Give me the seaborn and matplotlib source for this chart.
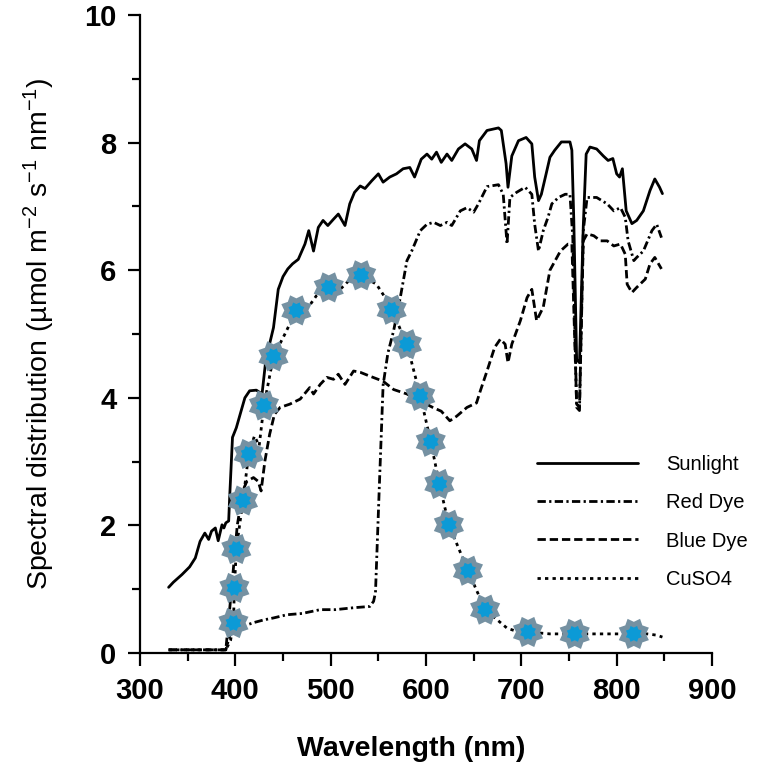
import numpy as np
import pandas as pd
import seaborn as sns
import matplotlib
matplotlib.use("Agg")
import matplotlib.pyplot as plt
from matplotlib.path import Path

# values (wavelength nm, umol m-2 s-1 nm-1)
sun_wl = [330, 335, 344, 352, 358, 363, 368, 372, 375, 379, 382, 386, 388, 390, 393,
          394, 397, 401, 405, 410, 415, 422, 428, 432, 436, 440, 445, 450, 455, 460,
          466, 473, 477, 482, 487, 492, 497, 503, 508, 515, 520, 525, 531, 536, 543,
          550, 555, 562, 569, 576, 583, 588, 595, 601, 606, 611, 616, 622, 627, 634,
          641, 648, 653, 656, 664, 676, 679, 684, 686, 690, 697, 705, 711, 714, 718,
          721, 726, 730, 735, 742, 751, 753, 755, 758, 761, 765, 768, 772, 779, 786,
          791, 796, 800, 803, 806, 810, 816, 821, 828, 835, 840, 845, 848]
sun_val = [1.03, 1.11, 1.23, 1.35, 1.49, 1.75, 1.88, 1.78, 1.91, 1.96, 1.76, 2.01, 1.96, 2.04, 2.07,
           2.43, 3.38, 3.53, 3.74, 4.00, 4.11, 4.12, 4.06, 4.60, 4.85, 5.10, 5.70, 5.90, 6.02, 6.10,
           6.17, 6.41, 6.62, 6.30, 6.67, 6.78, 6.70, 6.80, 6.88, 6.70, 7.04, 7.22, 7.32, 7.28, 7.40,
           7.51, 7.38, 7.46, 7.51, 7.59, 7.61, 7.46, 7.74, 7.82, 7.74, 7.85, 7.69, 7.82, 7.72, 7.90,
           7.98, 7.90, 7.72, 8.03, 8.19, 8.23, 8.19, 7.67, 7.30, 7.79, 8.03, 8.08, 7.98, 7.46, 7.09,
           7.19, 7.51, 7.77, 7.88, 8.01, 8.01, 7.88, 6.80, 4.60, 4.55, 6.70, 7.82, 7.93, 7.90, 7.79,
           7.72, 7.75, 7.51, 7.46, 7.59, 6.93, 6.73, 6.78, 6.93, 7.25, 7.43, 7.30, 7.20]

red_wl = [330, 390, 396, 400, 412, 420, 430, 440, 454, 470, 489, 505, 524, 541, 545,
          547, 551, 555, 560, 566, 573, 580, 585, 594, 601, 608, 615, 622, 627, 636,
          643, 650, 655, 664, 676, 681, 685, 688, 695, 704, 711, 714, 718, 723, 728,
          732, 739, 746, 751, 754, 758, 761, 765, 769, 779, 790, 797, 804, 809, 812,
          818, 821, 828, 837, 842, 847]
red_val = [0.05, 0.05, 0.38, 0.42, 0.44, 0.48, 0.52, 0.55, 0.60, 0.62, 0.68, 0.68, 0.71, 0.73, 0.81,
           0.95, 2.60, 4.20, 4.70, 5.05, 5.57, 6.15, 6.30, 6.62, 6.72, 6.75, 6.70, 6.75, 6.70, 6.93,
           6.98, 6.91, 7.04, 7.31, 7.34, 7.19, 6.41, 7.14, 7.22, 7.30, 7.19, 6.72, 6.30, 6.62, 6.83,
           7.04, 7.14, 7.19, 7.19, 6.50, 3.85, 3.80, 6.62, 7.14, 7.14, 7.04, 6.93, 6.98, 6.83, 6.46,
           6.15, 6.20, 6.30, 6.62, 6.72, 6.51]

blue_wl = [330, 390, 396, 402, 408, 412, 419, 424, 427, 431, 436, 441, 447, 457, 468,
           478, 482, 489, 496, 503, 508, 515, 524, 531, 541, 555, 566, 580, 594, 607,
           616, 625, 632, 643, 653, 657, 664, 672, 678, 683, 686, 690, 699, 706, 711,
           716, 723, 730, 741, 749, 753, 758, 761, 765, 769, 776, 783, 790, 797, 804,
           809, 811, 816, 821, 830, 835, 840, 847]
blue_val = [0.05, 0.05, 1.00, 2.00, 2.55, 2.69, 2.75, 2.69, 2.54, 3.01, 3.43, 3.74, 3.85, 3.90, 3.98,
            4.16, 4.06, 4.21, 4.32, 4.29, 4.37, 4.21, 4.42, 4.40, 4.34, 4.26, 4.13, 4.06, 3.95, 3.85,
            3.79, 3.64, 3.71, 3.85, 3.92, 4.11, 4.42, 4.79, 4.92, 4.84, 4.55, 4.84, 5.21, 5.57, 5.70,
            5.21, 5.42, 6.00, 6.30, 6.41, 6.41, 3.90, 3.85, 6.46, 6.57, 6.54, 6.46, 6.46, 6.38, 6.41,
            6.25, 5.78, 5.65, 5.73, 5.86, 6.10, 6.20, 6.02]

cu_wl = [330, 390, 395, 398, 399, 401, 408, 414, 420, 425, 430, 440, 452, 464, 478,
         485, 498, 510, 520, 532, 548, 555, 564, 580, 594, 605, 614, 624, 644, 662,
         685, 699, 707, 730, 756, 790, 818, 832, 842, 848]
cu_val = [0.05, 0.05, 0.20, 0.47, 1.02, 1.63, 2.39, 3.12, 3.40, 3.25, 3.88, 4.65, 5.00, 5.37, 5.45,
          5.60, 5.73, 5.70, 5.85, 5.92, 5.78, 5.62, 5.38, 4.84, 4.03, 3.31, 2.65, 2.01, 1.29, 0.68,
          0.39, 0.32, 0.33, 0.30, 0.30, 0.30, 0.30, 0.30, 0.28, 0.25]

cu_mark_wl = [398, 399, 401, 408, 414, 430, 440, 464, 498, 532, 564, 580, 594, 605, 614,
              624, 644, 662, 707, 756, 818]
cu_mark_val = [0.47, 1.02, 1.63, 2.39, 3.12, 3.88, 4.65, 5.37, 5.73, 5.92, 5.38, 4.84, 4.03, 3.31, 2.65,
               2.01, 1.29, 0.68, 0.33, 0.30, 0.30]

labels = ["Sunlight", "Red Dye", "Blue Dye", "CuSO4"]

sns.set_style("ticks")
plt.rcParams["font.family"] = ["Liberation Sans", "DejaVu Sans"]
plt.rcParams["mathtext.fontset"] = "custom"
plt.rcParams["mathtext.rm"] = "Liberation Sans"
plt.rcParams["mathtext.it"] = "Liberation Sans:italic"
plt.rcParams["text.color"] = "black"
plt.rcParams["axes.labelcolor"] = "black"

fig = plt.figure(figsize=(7.66, 7.72), dpi=100)
ax = fig.add_axes([0.1828, 0.1541, 0.7467, 0.8265])

lw = 2.0
styles = ["-", (0, (3.0, 1.2, 0.8, 1.2)), (0, (3.0, 1.4)), (0, (1.2, 1.5))]
series = [(sun_wl, sun_val), (red_wl, red_val), (blue_wl, blue_val), (cu_wl, cu_val)]
for (wl, val), lab, ls in zip(series, labels, styles):
    df = pd.DataFrame({"wl": wl, "val": val})
    sns.lineplot(data=df, x="wl", y="val", ax=ax, color="black", linewidth=lw,
                 linestyle=ls, estimator=None, label=lab, zorder=2)

# eight-point star markers on the CuSO4 curve
ang = np.linspace(0, 2 * np.pi, 17)[:-1] + np.pi / 8
rad = np.where(np.arange(16) % 2 == 0, 1.0, 0.74)
verts = np.column_stack([rad * np.cos(ang), rad * np.sin(ang)])
verts = np.vstack([verts, verts[:1]])
star = Path(verts, closed=True)
mk = pd.DataFrame({"wl": cu_mark_wl, "val": cu_mark_val})
sns.scatterplot(data=mk, x="wl", y="val", ax=ax, marker=star, s=470,
                color="#7591a2", edgecolor="none", zorder=5, legend=False)
sns.scatterplot(data=mk, x="wl", y="val", ax=ax, marker=star, s=130,
                color="#0c9ad6", edgecolor="none", zorder=6, legend=False)

ax.set_xlim(300, 900)
ax.set_ylim(0, 10)
ax.set_xticks(range(300, 901, 100))
ax.set_xticks(range(350, 900, 100), minor=True)
ax.set_yticks(range(0, 11, 2))
ax.set_yticks(range(1, 10, 2), minor=True)
sns.despine(ax=ax)
for sp in ["left", "bottom"]:
    ax.spines[sp].set_linewidth(1.6)
    ax.spines[sp].set_color("black")
ax.tick_params(which="major", direction="out", length=9, width=1.6, pad=8,
               labelsize=21, colors="black")
ax.tick_params(which="minor", direction="out", length=6, width=1.6, colors="black")
for t in ax.get_xticklabels() + ax.get_yticklabels():
    t.set_fontweight("bold")

ax.set_xlabel("Wavelength (nm)", fontsize=20.5, fontweight="bold")
ax.set_ylabel("Spectral distribution (\u00b5mol m$^{-2}$ s$^{-1}$ nm$^{-1}$)", fontsize=20.5)
ax.xaxis.set_label_coords(0.474, -0.13)
ax.yaxis.set_label_coords(-0.145, 0.5)

ax.legend(loc="upper left", bbox_to_anchor=(0.694, 0.31), frameon=False, fontsize=14.5,
          handlelength=5.0, handletextpad=1.4, labelspacing=0.95, borderpad=0,
          borderaxespad=0)

fig.savefig("out.png", dpi=100)
